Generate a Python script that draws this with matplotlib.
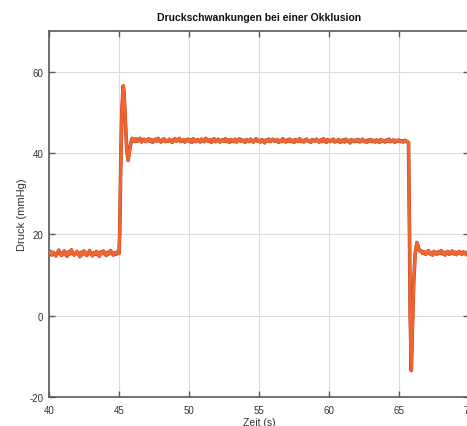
import numpy as np
import matplotlib
matplotlib.use("Agg")
import matplotlib.pyplot as plt

plt.rcParams['font.family'] = ['Liberation Sans', 'DejaVu Sans']
plt.rcParams['axes.unicode_minus'] = False

title = "Druckschwankungen bei einer Okklusion"
xlabel = "Zeit (s)"
ylabel = "Druck (mmHg)"
xticks = [40, 45, 50, 55, 60, 65, 70]
yticks = [-20, 0, 20, 40, 60]

# baseline before occlusion, 40.0 .. 45.0 s
base_left = [15.2, 15.8, 14.9, 15.6, 15.1, 14.7, 15.4, 16.1, 15.3, 14.8, 15.5, 15.9, 15.0,
             14.6, 15.7, 15.2, 16.2, 15.4, 14.9, 15.3, 15.8, 15.1, 14.5, 15.6, 15.0, 15.9,
             15.3, 14.8, 15.4, 16.0, 15.2, 14.7, 15.5, 15.1, 15.8, 15.0, 14.6, 15.7, 15.3,
             15.9, 15.1, 14.8, 15.6, 15.2, 16.0, 15.4, 14.9, 15.5, 15.1, 15.7, 15.3]
# onset transient
rise_t = [45.05, 45.12, 45.2, 45.3, 45.36, 45.45, 45.55, 45.65, 45.75, 45.85, 45.95]
rise_v = [20.0, 36.0, 50.0, 56.5, 55.0, 48.0, 41.0, 38.2, 40.5, 42.6, 43.6]
# occlusion plateau, 46.0 .. 65.6 s
plateau = [43.3, 42.8, 43.5, 42.9, 43.1, 43.6, 42.7, 43.2, 43.4, 42.8,
           43.0, 43.5, 42.9, 43.3, 42.6, 43.1, 43.4, 42.9, 43.6, 43.0,
           42.7, 43.2, 43.5, 42.8, 43.1, 42.9, 43.4, 43.0, 42.6, 43.3,
           43.5, 42.9, 43.2, 43.6, 42.8, 43.0, 43.3, 42.7, 43.1, 43.4,
           42.9, 43.2, 42.6, 43.5, 43.0, 42.8, 43.3, 43.1, 42.7, 43.4,
           43.0, 42.8, 43.6, 43.1, 42.9, 43.3, 42.6, 43.2, 43.5, 42.8,
           43.1, 43.4, 42.7, 43.0, 43.3, 42.9, 43.5, 42.8, 43.2, 42.6,
           43.3, 43.0, 42.8, 43.4, 42.7, 43.1, 43.5, 42.9, 43.2, 43.0,
           42.6, 43.3, 43.1, 42.8, 43.4, 43.0, 42.7, 43.2, 43.5, 42.9,
           43.1, 42.7, 43.3, 43.0, 42.5, 43.2, 42.9, 43.4, 42.8, 43.1,
           43.4, 42.9, 43.0, 43.3, 42.6, 43.1, 42.8, 43.5, 43.0, 42.7,
           43.2, 42.9, 43.4, 42.8, 43.1, 42.6, 43.3, 43.0, 42.9, 43.5,
           42.8, 43.1, 42.7, 43.2, 43.4, 42.9, 43.0, 42.6, 43.3, 43.1,
           42.9, 43.4, 43.0, 42.7, 43.2, 42.8, 43.5, 43.1, 42.6, 43.3,
           43.0, 42.8, 43.2, 43.4, 42.7, 43.1, 42.9, 43.3, 42.6, 43.0,
           43.2, 42.7, 43.4, 42.9, 43.1, 42.5, 43.3, 43.0, 42.8, 43.2,
           42.9, 43.3, 42.7, 43.1, 43.4, 42.8, 43.0, 42.6, 43.2, 42.9,
           43.3, 42.8, 43.1, 42.7, 43.2, 43.0, 42.6, 43.3, 42.9, 43.1,
           42.7, 43.2, 42.9, 43.4, 42.8, 43.0, 43.2, 42.6, 43.1, 42.9,
           43.2, 42.8, 43.0, 42.7, 43.1, 42.9, 42.8]
# release transient
drop_t = [65.68, 65.75, 65.8, 65.88, 65.95, 66.05, 66.15, 66.28, 66.4, 66.5]
drop_v = [42.5, 20.0, 0.0, -13.5, -4.0, 8.0, 15.0, 18.0, 16.6, 15.9]
# baseline after release, 66.6 .. 70.0 s
base_right = [15.9, 15.3, 15.7, 15.1, 15.6, 16.0, 15.2, 15.5, 14.9, 15.8, 15.4, 15.1,
              15.7, 15.3, 16.0, 15.2, 15.6, 14.9, 15.5, 15.8, 15.1, 15.4, 15.9, 15.2,
              15.6, 15.0, 15.5, 15.8, 15.3, 15.1, 15.7, 15.4, 15.0, 15.6, 15.3]

t = np.concatenate([np.linspace(40.0, 45.0, len(base_left)), rise_t,
                    np.linspace(46.0, 65.6, len(plateau)), drop_t,
                    np.linspace(66.6, 70.0, len(base_right))])
p = np.concatenate([base_left, rise_v, plateau, drop_v, base_right])

fig = plt.figure(figsize=(4.67, 4.27), dpi=100)
ax = fig.add_axes([49/467, 29/427, 420/467, 366/427])

ax.plot(t, p, color='#a8402a', lw=2.6, zorder=3)
ax.plot(t, p, color='#f2652f', lw=2.1, zorder=4)

ax.set_xlim(40, 70)
ax.set_ylim(-20, 70)
ax.set_xticks(xticks)
ax.set_yticks(yticks)
ax.grid(True, color='#dcdcdc', lw=0.8)
ax.set_axisbelow(True)
for s in ax.spines.values():
    s.set_color('#5a5a5a')
    s.set_linewidth(1.2)
ax.tick_params(direction='in', length=4, width=1, colors='#5a5a5a',
               labelcolor='#333333', labelsize=7, top=True, right=True, pad=4)
ax.tick_params(axis='x', pad=6)
ax.set_title(title, fontsize=7.5, fontweight='bold', color='#111111', pad=8)
ax.set_xlabel(xlabel, fontsize=7.5, color='#333333', labelpad=1)
ax.set_ylabel(ylabel, fontsize=8, color='#333333')
ax.yaxis.set_label_coords(-0.052, 0.5)

fig.savefig('out.png', dpi=100)
